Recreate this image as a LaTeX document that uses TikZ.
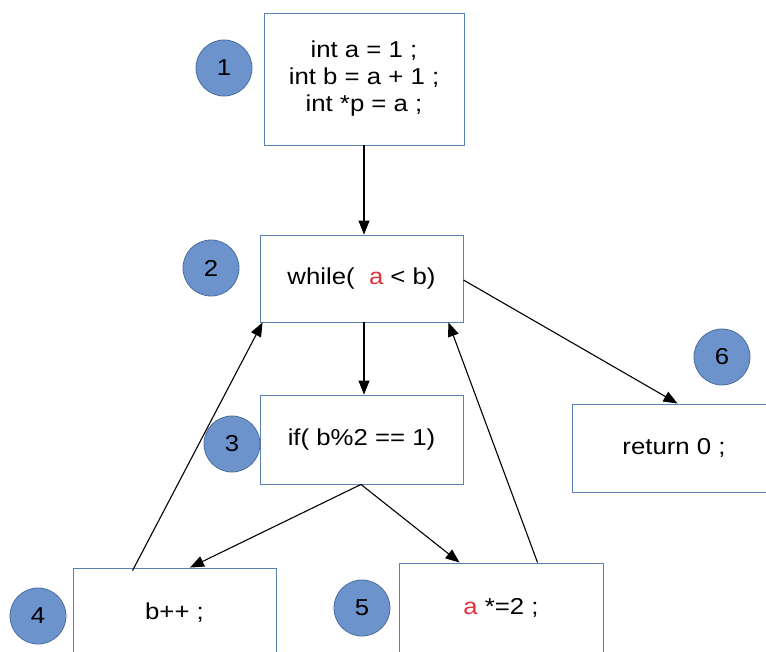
\documentclass[tikz,border=0pt]{standalone}
\usepackage{fontspec}
\setmainfont[FakeStretch=1.12]{Liberation Sans}
\usetikzlibrary{arrows.meta,calc}
\definecolor{boxline}{HTML}{5B80B2}
\definecolor{dotfill}{HTML}{6C93CB}
\definecolor{dotline}{HTML}{4A6E9E}
\definecolor{varred}{HTML}{E0343C}
\begin{document}
\begin{tikzpicture}[x=1pt,y=-1pt,
  blk/.style={draw=boxline,line width=0.9pt,fill=white,inner sep=0pt,align=center,
    font=\fontsize{23}{27}\selectfont},
  dot/.style={circle,draw=dotline,fill=dotfill,line width=0.8pt,minimum size=56pt,inner sep=0pt,
    font=\fontsize{23}{26}\selectfont},
  flow/.style={draw=black,line width=1.1pt,-{Triangle[length=14pt,width=11pt]}}]
\useasboundingbox (0,0) rectangle (766,652);
% statement boxes
\node[blk,minimum width=200pt,minimum height=132pt] (b1) at (364,79)
  {int a = 1 ;\\int b = a + 1 ;\\int *p = a ;};
\node[blk,minimum width=203pt,minimum height=87pt] (b2) at (361.5,278.5)
  {while(\ \ \textcolor{varred}{a} < b)};
\node[blk,minimum width=203pt,minimum height=89pt] (b3) at (361.5,439.5)
  {if( b\%2 == 1)};
\node[blk,minimum width=203pt,minimum height=90pt] (b4) at (174.5,613)
  {b++ ;};
\node[blk,minimum width=204pt,minimum height=90pt] (b5) at (501,608)
  {\textcolor{varred}{a} *=2 ;};
\node[blk,minimum width=204pt,minimum height=88pt] (b6) at (674,448)
  {return 0 ;};
% numbered markers
\node[dot] (n1) at (224,68) {1};
\node[dot] (n2) at (211,268) {2};
\node[dot] (n3) at (232,444) {3};
\node[dot] (n4) at (38,616) {4};
\node[dot] (n5) at (362,608) {5};
\node[dot] (n6) at (722,357) {6};
% connector end points on the box edges
\coordinate (e2) at (b1.south |- b2.north);
\coordinate (s2) at ($(b2.south)+(2.5,0)$);
\coordinate (e3) at (s2 |- b3.north);
\coordinate (s3) at ($(b3.south)+(-0.5,0)$);
\coordinate (e4) at ($(b4.north)+(15.5,0)$);
\coordinate (e5) at ($(b5.north west)+(61,0)$);
\coordinate (t4) at ($(b4.north west)+(60,3)$);
\coordinate (t5) at ($(b5.north west)+(139,0)$);
\coordinate (e2a) at ($(b2.south west)+(3,0)$);
\coordinate (e2b) at ($(b2.south east)+(-15,0)$);
\coordinate (t2) at ($(b2.east)+(0,1.5)$);
\coordinate (e6) at ($(b6.north west)+(106,0)$);
% control flow
\draw[flow] (b1.south) -- (e2);
\draw[flow] (s2) -- (e3);
\draw[flow] (t2) -- (e6);
\draw[flow] (s3) -- (e4);
\draw[flow] (s3) -- (e5);
\draw[flow] (t4) -- (e2a);
\draw[flow] (t5) -- (e2b);
\end{tikzpicture}
\end{document}
